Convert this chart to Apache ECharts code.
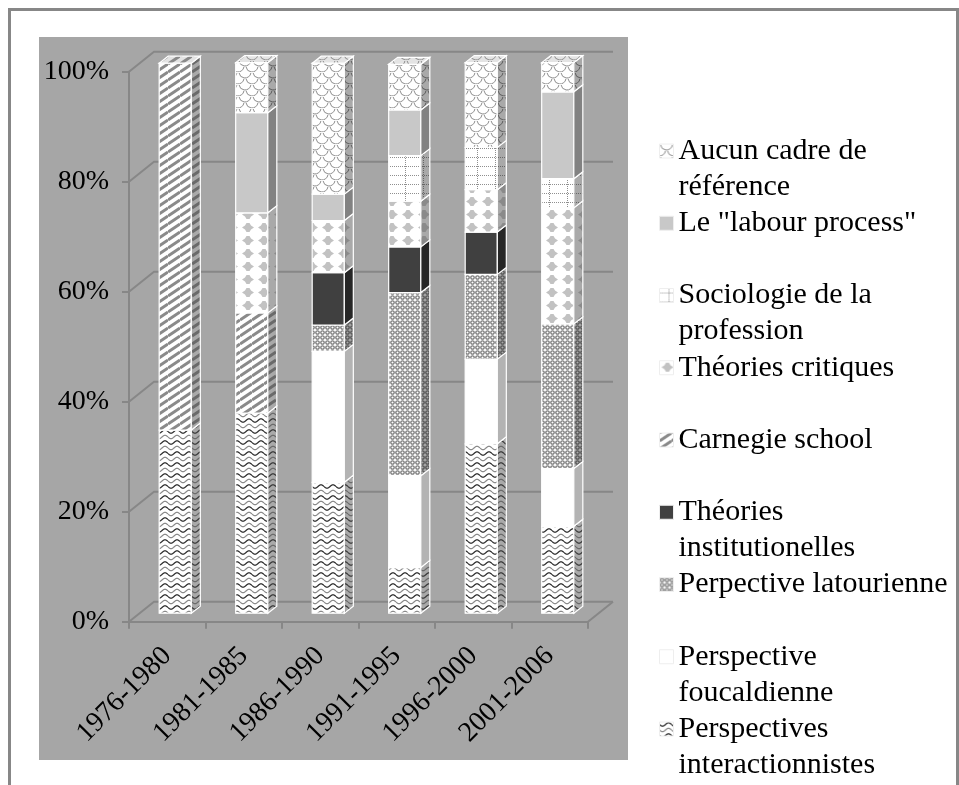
<!DOCTYPE html>
<html>
<head>
<meta charset="utf-8">
<title>Cadres de référence 1976-2006</title>
<script src="https://cdn.jsdelivr.net/npm/echarts@6/dist/echarts.min.js"></script>
<style>
  html, body { margin: 0; padding: 0; background: #fff; }
  #chart { width: 959px; height: 785px; }
</style>
</head>
<body>
<div id="chart"></div>
<script>
// categories and tick labels
const periods = ['1976-1980', '1981-1985', '1986-1990', '1991-1995', '1996-2000', '2001-2006'];
const yTicks = [0, 20, 40, 60, 80, 100];

// share of articles (%) per period, stack order bottom -> top
const interactionnistes = [33.3, 36.4, 23.8, 8.3, 30.8, 15.8];
const foucaldienne      = [0, 0, 23.8, 16.7, 15.4, 10.5];
const latourienne       = [0, 0, 4.8, 33.3, 15.4, 26.3];
const institutionelles  = [0, 0, 9.5, 8.3, 7.7, 0];
const carnegie          = [66.7, 18.2, 0, 0, 0, 0];
const critiques         = [0, 18.2, 9.5, 8.3, 7.7, 21.1];
const sociologie        = [0, 0, 0, 8.3, 7.7, 5.3];
const labourProcess     = [0, 18.2, 4.8, 8.3, 0, 15.8];
const aucunCadre        = [0, 9.1, 23.8, 8.3, 15.4, 5.3];

const seriesValues = [interactionnistes, foucaldienne, latourienne, institutionelles,
  carnegie, critiques, sociologie, labourProcess, aucunCadre];
const seriesNames = ['Perspectives interactionnistes', 'Perspective foucaldienne', 'Perpective latourienne',
  'Théories institutionelles', 'Carnegie school', 'Théories critiques', 'Sociologie de la profession',
  'Le "labour process"', 'Aucun cadre de référence'];
const legendLabels = ['Perspectives\ninteractionnistes', 'Perspective\nfoucaldienne', 'Perpective latourienne',
  'Théories\ninstitutionelles', 'Carnegie school', 'Théories critiques', 'Sociologie de la\nprofession',
  'Le "labour process"', 'Aucun cadre de\nréférence'];

const SERIF = "'Liberation Serif', 'Times New Roman', serif";
const AXIS_GRAY = '#878787';
const WALL_DX = 25, WALL_DY = 20;   // depth of the 3d box
const BAR_DX = 8, BAR_DY = -8.5;    // bars sit in the middle of the box
const SIDE_DX = 9, SIDE_DY = 7;     // bar depth
const BAR_RATIO = 0.42;

// --- fill patterns ---
function tile(w, h, bg, draw) {
  const c = document.createElement('canvas');
  c.width = w; c.height = h;
  const ctx = c.getContext('2d');
  ctx.fillStyle = bg;
  ctx.fillRect(0, 0, w, h);
  if (draw) draw(ctx, w, h);
  return { type: 'pattern', image: c, repeat: 'repeat' };
}

const drawWaves = (dark, light) => (ctx, w) => {
  [[2.5, dark], [8, light]].forEach(([y0, col]) => {
    ctx.strokeStyle = col;
    ctx.lineWidth = 1.2;
    ctx.beginPath();
    for (let x = 0; x <= w; x += 0.5) {
      const y = y0 + 1.7 * Math.sin(x / w * Math.PI * 2);
      x === 0 ? ctx.moveTo(x, y) : ctx.lineTo(x, y);
    }
    ctx.stroke();
  });
};
const drawRings = (ink) => (ctx) => {
  ctx.strokeStyle = ink;
  ctx.lineWidth = 1.3;
  ctx.beginPath();
  ctx.arc(2.5, 2.5, 1.7, 0, Math.PI * 2);
  ctx.stroke();
};
const drawStripes = (ink) => (ctx, w, h) => {
  ctx.strokeStyle = ink;
  ctx.lineWidth = 3;
  [-h, 0, h].forEach(off => {
    ctx.beginPath();
    ctx.moveTo(0, h + off);
    ctx.lineTo(w, off);
    ctx.stroke();
  });
};
const drawBlobs = (ink) => (ctx) => {
  ctx.fillStyle = ink;
  ctx.beginPath();
  ctx.moveTo(2, 6.5); ctx.lineTo(5, 4.5); ctx.lineTo(6.5, 2); ctx.lineTo(9.5, 2);
  ctx.lineTo(11, 4.5); ctx.lineTo(14, 6.5); ctx.lineTo(11, 8.5); ctx.lineTo(9.5, 11);
  ctx.lineTo(6.5, 11); ctx.lineTo(5, 8.5);
  ctx.closePath();
  ctx.fill();
};
const drawDots = (ink) => (ctx, w, h) => {
  ctx.fillStyle = ink;
  for (let x = 0; x < w; x += 2) { ctx.fillRect(x, 4, 1, 1); ctx.fillRect(x, 13, 1, 1); }
  for (let y = 0; y < h; y += 2) ctx.fillRect(9, y, 1, 1);
};
const drawScales = (ink) => (ctx) => {
  ctx.strokeStyle = ink;
  ctx.lineWidth = 1;
  [[7, 0], [0, 6], [14, 6], [7, 12]].forEach(([cx, cy]) => {
    ctx.beginPath();
    ctx.arc(cx, cy, 6, 0.15, Math.PI - 0.15);
    ctx.stroke();
  });
};

function patternSet(w, h, make, inkFront, inkSide) {
  return {
    front: tile(w, h, '#ffffff', make(inkFront)),
    side: tile(w, h, '#a9a9a9', make(inkSide)),
    top: tile(w, h, '#e4e4e4', make(inkFront))
  };
}

const fills = [
  { front: tile(12, 11, '#fff', drawWaves('#222', '#8a8a8a')),
    side: tile(12, 11, '#a9a9a9', drawWaves('#333', '#6a6a6a')),
    top: tile(12, 11, '#e4e4e4', drawWaves('#222', '#8a8a8a')) },
  { front: '#ffffff', side: '#b3b3b3', top: '#eeeeee' },
  patternSet(5, 5, drawRings, '#7c7c7c', '#555555'),
  { front: '#404040', side: '#262626', top: '#595959' },
  patternSet(12, 8, drawStripes, '#8a8a8a', '#6a6a6a'),
  patternSet(16, 13, drawBlobs, '#c2c2c2', '#8a8a8a'),
  patternSet(18, 18, drawDots, '#8f8f8f', '#666666'),
  { front: '#c8c8c8', side: '#828282', top: '#d8d8d8' },
  patternSet(14, 12, drawScales, '#8d8d8d', '#5c5c5c')
];

// --- stacked data: [category, from, to, isTopSegment] ---
const lastNonZero = periods.map((p, ci) => {
  let last = -1;
  seriesValues.forEach((vals, si) => { if (vals[ci] > 0) last = si; });
  return last;
});
const running = periods.map(() => 0);
const stacked = seriesValues.map((vals, si) => vals.map((v, ci) => {
  const from = running[ci];
  running[ci] += v;
  return [ci, from, running[ci], lastNonZero[ci] === si ? 1 : 0];
}));

function renderSegment(si) {
  const f = fills[si];
  const edge = { stroke: '#ffffff', lineWidth: 1.2 };
  return function (params, api) {
    const lo = api.value(1), hi = api.value(2);
    if (hi - lo <= 0) return null;
    const cat = api.value(0);
    const bw = api.size([1, 0])[0] * BAR_RATIO;
    const pLo = api.coord([cat, lo]);
    const pHi = api.coord([cat, hi]);
    const x = pLo[0] - bw / 2 + BAR_DX;
    const yb = pLo[1] + BAR_DY;
    const yt = pHi[1] + BAR_DY;
    const children = [
      { type: 'rect', shape: { x: x, y: yt, width: bw, height: yb - yt },
        style: Object.assign({ fill: f.front }, edge) },
      { type: 'polygon', shape: { points: [[x + bw, yb], [x + bw + SIDE_DX, yb - SIDE_DY],
          [x + bw + SIDE_DX, yt - SIDE_DY], [x + bw, yt]] },
        style: Object.assign({ fill: f.side }, edge) }
    ];
    if (api.value(3)) {
      children.push({ type: 'polygon', shape: { points: [[x, yt], [x + SIDE_DX, yt - SIDE_DY],
          [x + bw + SIDE_DX, yt - SIDE_DY], [x + bw, yt]] },
        style: Object.assign({ fill: f.top }, edge) });
    }
    return { type: 'group', children: children };
  };
}

const wallSeries = {
  type: 'custom',
  name: 'walls',
  silent: true,
  z: 1,
  data: yTicks.map(v => [0, v]),
  encode: { x: 0, y: 1 },
  renderItem: function (params, api) {
    const cs = params.coordSys;
    const v = api.value(1);
    const y = api.coord([0, v])[1];
    const x0 = cs.x, x1 = cs.x + cs.width;
    const line = { stroke: AXIS_GRAY, lineWidth: 2, fill: null };
    const children = [{ type: 'polyline',
      shape: { points: [[x0, y], [x0 + WALL_DX, y - WALL_DY], [x1 + WALL_DX, y - WALL_DY]] },
      style: line }];
    if (v === 0) {
      children.push({ type: 'line', shape: { x1: x1, y1: y, x2: x1 + WALL_DX, y2: y - WALL_DY }, style: line });
    }
    return { type: 'group', children: children };
  }
};

const barSeries = seriesNames.map((name, si) => ({
  type: 'custom',
  name: name,
  z: 2,
  itemStyle: { color: fills[si].front },
  data: stacked[si],
  encode: { x: 0, y: [1, 2] },
  renderItem: renderSegment(si)
}));

// legend: top entry = top of the stack; one small legend per entry so the
// marker sits on the first text line like in the original
const LH = 36;
const LEGEND_FIRST = 151, LEGEND_STEP = 72.25;
const legendOrder = [8, 7, 6, 5, 4, 3, 2, 1, 0];
const legends = legendOrder.map((si, k) => {
  const twoLine = legendLabels[si].indexOf('\n') >= 0;
  const c = LEGEND_FIRST + k * LEGEND_STEP;
  return {
    left: 659,
    top: twoLine ? c - 1.5 * LH : c - 0.5 * LH,
    padding: 0,
    selectedMode: false,
    itemWidth: 14,
    itemHeight: 14,
    data: [{ name: seriesNames[si], icon: 'rect',
      itemStyle: { color: fills[si].front, borderColor: '#eeeeee', borderWidth: 1 } }],
    formatter: () => (twoLine ? ' \n' : '') + legendLabels[si],
    textStyle: { fontFamily: SERIF, fontSize: 30, color: '#000', lineHeight: LH }
  };
});

const chart = echarts.init(document.getElementById('chart'), null, { renderer: 'canvas' });
chart.setOption({
  animation: false,
  backgroundColor: '#ffffff',
  graphic: [
    { type: 'rect', z: -10, shape: { x: 9.5, y: 9.5, width: 948, height: 800 },
      style: { fill: '#ffffff', stroke: AXIS_GRAY, lineWidth: 3 } },
    { type: 'rect', z: -9, shape: { x: 39, y: 37, width: 589, height: 723 },
      style: { fill: '#a6a6a6' } }
  ],
  legend: legends,
  grid: { left: 129, right: 371, top: 71.7, bottom: 163.3, containLabel: false },
  xAxis: {
    type: 'category',
    data: periods,
    boundaryGap: true,
    axisLine: { show: true, lineStyle: { color: AXIS_GRAY, width: 2 } },
    axisTick: { show: true, length: 7, interval: 0, lineStyle: { color: AXIS_GRAY, width: 2 } },
    axisLabel: { rotate: 45, interval: 0, margin: 30, color: '#000', fontFamily: SERIF, fontSize: 28 },
    splitLine: { show: false }
  },
  yAxis: {
    type: 'value',
    min: 0,
    max: 100,
    interval: 20,
    axisLine: { show: true, lineStyle: { color: AXIS_GRAY, width: 2 } },
    axisTick: { show: true, length: 7, lineStyle: { color: AXIS_GRAY, width: 2 } },
    axisLabel: { formatter: '{value}%', margin: 20, color: '#000', fontFamily: SERIF, fontSize: 28 },
    splitLine: { show: false }
  },
  series: [wallSeries].concat(barSeries)
});
</script>
</body>
</html>
